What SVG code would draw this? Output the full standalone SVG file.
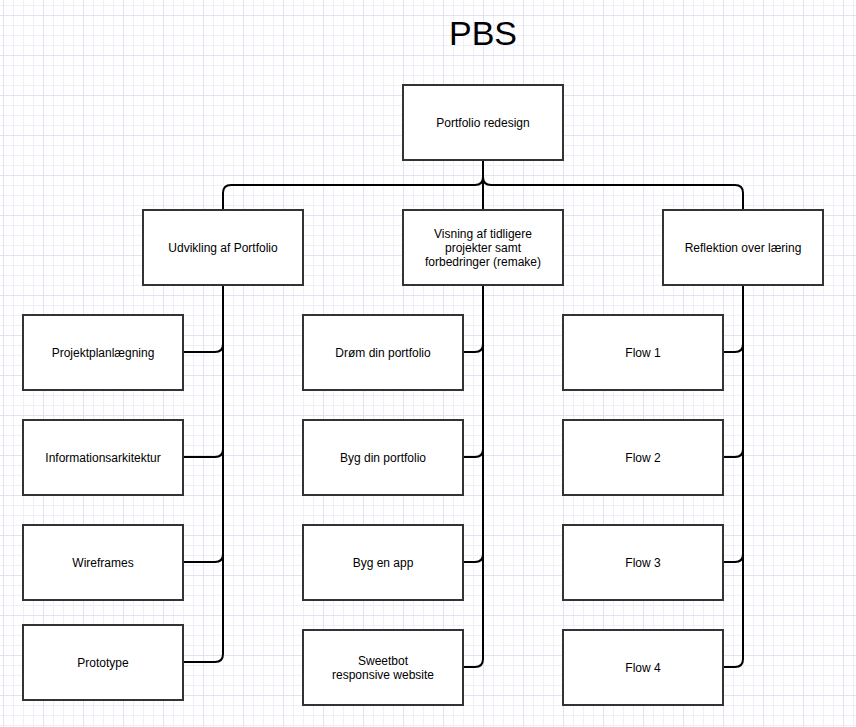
<svg xmlns="http://www.w3.org/2000/svg" width="856" height="727" viewBox="0 0 856 727">
<defs>
<pattern id="minor" x="3" y="5" width="10" height="10" patternUnits="userSpaceOnUse">
<path d="M0 0.5 H10 M0.5 0 V10" fill="none" stroke="#f0eff9" stroke-width="1"/>
</pattern>
<pattern id="major" x="3" y="15" width="40" height="40" patternUnits="userSpaceOnUse">
<path d="M0 0.5 H40 M0.5 0 V40" fill="none" stroke="#e3e1f3" stroke-width="1"/>
</pattern>
<style>
.box{fill:#ffffff;stroke:#333333;stroke-width:2}
.lbl{font-family:"Liberation Sans",Arial,sans-serif;font-size:12px;fill:#000000;text-anchor:middle}
.edge{fill:none;stroke:#000000;stroke-width:2}
</style>
</defs>
<rect width="856" height="727" fill="#ffffff"/>
<rect width="856" height="727" fill="url(#minor)"/>
<rect width="856" height="727" fill="url(#major)"/>
<text x="483" y="45" font-family="Liberation Sans, Arial, sans-serif" font-size="34" text-anchor="middle" fill="#000000">PBS</text>
<g id="connectors">
<path class="edge" d="M483 160 V177 Q483 185 475 185 H231 Q223 185 223 193 V210"/>
<path class="edge" d="M483 160 V210"/>
<path class="edge" d="M483 160 V177 Q483 185 491 185 H735 Q743 185 743 193 V210"/>
<path class="edge" d="M223 285 V344 Q223 352 215 352 H183"/>
<path class="edge" d="M223 285 V449 Q223 457 215 457 H183"/>
<path class="edge" d="M223 285 V554 Q223 562 215 562 H183"/>
<path class="edge" d="M223 285 V654 Q223 662 215 662 H183"/>
<path class="edge" d="M483 285 V344 Q483 352 475 352 H463"/>
<path class="edge" d="M483 285 V449 Q483 457 475 457 H463"/>
<path class="edge" d="M483 285 V554 Q483 562 475 562 H463"/>
<path class="edge" d="M483 285 V659 Q483 667 475 667 H463"/>
<path class="edge" d="M743 285 V344 Q743 352 735 352 H723"/>
<path class="edge" d="M743 285 V449 Q743 457 735 457 H723"/>
<path class="edge" d="M743 285 V554 Q743 562 735 562 H723"/>
<path class="edge" d="M743 285 V659 Q743 667 735 667 H723"/>
</g>
<g id="root"><rect class="box" x="403" y="85" width="160" height="75"/><text class="lbl" x="483" y="127">Portfolio redesign</text></g>
<g id="udvikling"><rect class="box" x="143" y="210" width="160" height="75"/><text class="lbl" x="223" y="252">Udvikling af Portfolio</text></g>
<g id="visning"><rect class="box" x="403" y="210" width="160" height="75"/><text class="lbl" x="483" y="238">Visning af tidligere</text><text class="lbl" x="483" y="252">projekter samt</text><text class="lbl" x="483" y="266">forbedringer (remake)</text></g>
<g id="reflektion"><rect class="box" x="663" y="210" width="160" height="75"/><text class="lbl" x="743" y="252">Reflektion over læring</text></g>
<g id="projektplan"><rect class="box" x="23" y="315" width="160" height="75"/><text class="lbl" x="103" y="357">Projektplanlægning</text></g>
<g id="informationsark"><rect class="box" x="23" y="420" width="160" height="75"/><text class="lbl" x="103" y="462">Informationsarkitektur</text></g>
<g id="wireframes"><rect class="box" x="23" y="525" width="160" height="75"/><text class="lbl" x="103" y="567">Wireframes</text></g>
<g id="prototype"><rect class="box" x="23" y="625" width="160" height="75"/><text class="lbl" x="103" y="667">Prototype</text></g>
<g id="droem"><rect class="box" x="303" y="315" width="160" height="75"/><text class="lbl" x="383" y="357">Drøm din portfolio</text></g>
<g id="byg"><rect class="box" x="303" y="420" width="160" height="75"/><text class="lbl" x="383" y="462">Byg din portfolio</text></g>
<g id="app"><rect class="box" x="303" y="525" width="160" height="75"/><text class="lbl" x="383" y="567">Byg en app</text></g>
<g id="sweetbot"><rect class="box" x="303" y="630" width="160" height="75"/><text class="lbl" x="383" y="665">Sweetbot</text><text class="lbl" x="383" y="679">responsive website</text></g>
<g id="flow1"><rect class="box" x="563" y="315" width="160" height="75"/><text class="lbl" x="643" y="357">Flow 1</text></g>
<g id="flow2"><rect class="box" x="563" y="420" width="160" height="75"/><text class="lbl" x="643" y="462">Flow 2</text></g>
<g id="flow3"><rect class="box" x="563" y="525" width="160" height="75"/><text class="lbl" x="643" y="567">Flow 3</text></g>
<g id="flow4"><rect class="box" x="563" y="630" width="160" height="75"/><text class="lbl" x="643" y="672">Flow 4</text></g>
</svg>
